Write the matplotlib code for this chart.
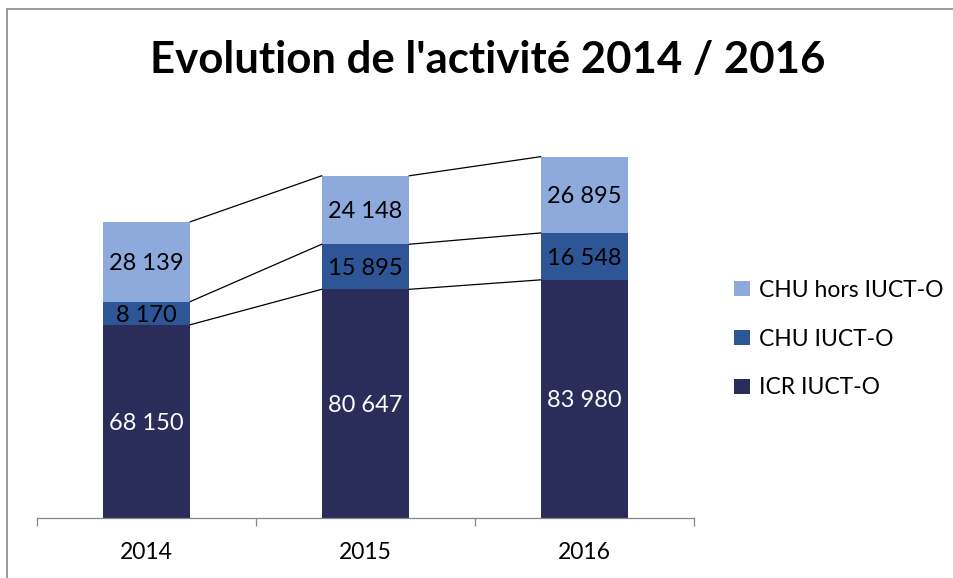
import matplotlib.pyplot as plt
import matplotlib.patches as mpatches
import numpy as np

plt.rcParams['font.family'] = ['Lato', 'DejaVu Sans']

# Data
years = ['2014', '2015', '2016']
icr_iucto = [68150, 80647, 83980]
chu_iucto = [8170, 15895, 16548]
chu_hors = [28139, 24148, 26895]
labels_icr = ['68 150', '80 647', '83 980']
labels_chu = ['8 170', '15 895', '16 548']
labels_hors = ['28 139', '24 148', '26 895']

c_dark = '#2a2c5a'
c_mid = '#2e5596'
c_light = '#8eaadc'

fig = plt.figure(figsize=(9.54, 5.78), dpi=100)
ax = fig.add_axes([37 / 954, 1 - 518 / 578, (694 - 37) / 954, (518 - 121) / 578])

x = np.arange(len(years))
w = 0.40
b1 = np.array(icr_iucto)
b2 = b1 + np.array(chu_iucto)
b3 = b2 + np.array(chu_hors)

ax.bar(x, icr_iucto, w, color=c_dark, label='ICR IUCT-O', zorder=2)
ax.bar(x, chu_iucto, w, bottom=b1, color=c_mid, label='CHU IUCT-O', zorder=2)
ax.bar(x, chu_hors, w, bottom=b2, color=c_light, label='CHU hors IUCT-O', zorder=2)

# series lines between bars
for tops in (b1, b2, b3):
    for i in range(len(x) - 1):
        ax.plot([x[i] + w / 2, x[i + 1] - w / 2], [tops[i], tops[i + 1]],
                color='black', linewidth=0.9, zorder=3)

# data labels
for i in range(len(x)):
    ax.text(x[i], b1[i] / 2, labels_icr[i], ha='center', va='center_baseline',
            color='white', fontsize=17)
    ax.text(x[i], b1[i] + chu_iucto[i] / 2, labels_chu[i], ha='center',
            va='center_baseline', color='black', fontsize=17)
    ax.text(x[i], b2[i] + chu_hors[i] / 2, labels_hors[i], ha='center',
            va='center_baseline', color='black', fontsize=17)

ax.set_xlim(-0.5, 2.5)
ax.set_ylim(0, 140000)
ax.set_yticks([])
ax.set_xticks(x)
ax.set_xticklabels(years, fontsize=16.5)
ax.set_xticks([-0.5, 0.5, 1.5, 2.5], minor=True)
ax.tick_params(axis='x', which='major', length=0, pad=17)
ax.tick_params(axis='x', which='minor', length=6, color='#868686', width=0.9)
for s in ('top', 'right', 'left'):
    ax.spines[s].set_visible(False)
ax.spines['bottom'].set_color('#868686')
ax.spines['bottom'].set_linewidth(0.9)

fig.text(488 / 954, 1 - 60 / 578, "Evolution de l'activité 2014 / 2016",
         ha='center', va='center', fontsize=31.5, fontweight='bold')

handles, lbls = ax.get_legend_handles_labels()
fig.legend(handles[::-1], lbls[::-1], loc='center left',
           bbox_to_anchor=(734 / 954, 1 - 339 / 578), frameon=False,
           borderpad=0, borderaxespad=0,
           fontsize=16.5, handlelength=0.68, handleheight=0.68,
           handletextpad=0.4, labelspacing=1.22)

# outer border
fig.patches.append(mpatches.Rectangle((7 / 954, -0.1), 1.2, 1 - 9 / 578 + 0.1,
                                      transform=fig.transFigure, fill=False,
                                      edgecolor='#888888', linewidth=1.2))

fig.savefig('out.png', dpi=100)
